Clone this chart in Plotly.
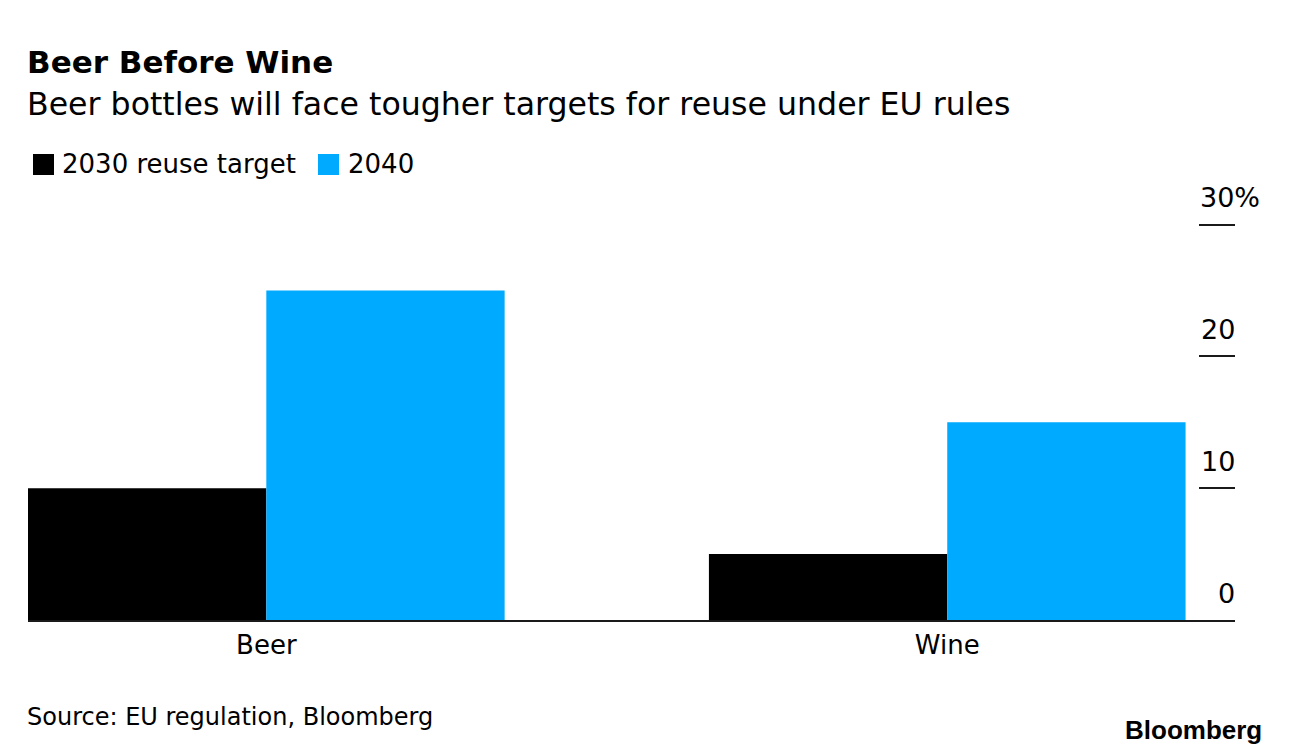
import plotly.graph_objects as go

categories = ["Beer", "Wine"]
series_names = ["2030 reuse target", "2040"]
values_2030 = [10, 5]
values_2040 = [25, 15]
tick_values = [0, 10, 20, 30]
tick_labels = ["0", "10", "20", "30%"]

colors = ["#000000", "#00AAFF"]
FONT = "DejaVu Sans, sans-serif"
LOGO_FONT = "Liberation Sans, Arial, sans-serif"

W, H = 1289, 756
L, R, T, B = 28, 54, 218, 136
PW, PH = W - L - R, H - T - B
Y_MAX = 30.5


def px(x):
    return (x - L) / PW


def py(y):
    return (H - B - y) / PH


fig = go.Figure()
for name, vals, col in zip(series_names, [values_2030, values_2040], colors):
    fig.add_trace(go.Bar(x=categories, y=vals, name=name, marker=dict(color=col, line=dict(width=0)),
                         showlegend=False))

annotations = []
# tick labels
for v, t in zip(tick_values, tick_labels):
    if t.endswith("%"):
        annotations.append(dict(x=1, xref="paper", xanchor="left", xshift=-37, y=v, yref="y",
                                yanchor="middle", yshift=27, text=t, showarrow=False,
                                font=dict(family=FONT, size=27, color="#000")))
    else:
        annotations.append(dict(x=1, xref="paper", xanchor="right", xshift=2, y=v, yref="y",
                                yanchor="middle", yshift=27, text=t, showarrow=False,
                                font=dict(family=FONT, size=27, color="#000")))

# title, subtitle
annotations.append(dict(x=px(25), y=py(62), xref="paper", yref="paper", xanchor="left", yanchor="middle",
                        text="<b>Beer Before Wine</b>", showarrow=False,
                        font=dict(family=FONT, size=31, color="#000")))
annotations.append(dict(x=px(25), y=py(104), xref="paper", yref="paper", xanchor="left", yanchor="middle",
                        text="Beer bottles will face tougher targets for reuse under EU rules", showarrow=False,
                        font=dict(family=FONT, size=31.6, color="#000")))
# legend
shapes = []
leg_sq = [(33, 54), (318, 339)]
leg_tx = [60, 346]
for (x0, x1), tx, name, col in zip(leg_sq, leg_tx, series_names, colors):
    shapes.append(dict(type="rect", xref="paper", yref="paper", x0=px(x0), x1=px(x1), y0=py(175), y1=py(154),
                       fillcolor=col, line=dict(width=0)))
    annotations.append(dict(x=px(tx), y=py(164), xref="paper", yref="paper", xanchor="left", yanchor="middle",
                            text=name, showarrow=False, font=dict(family=FONT, size=26, color="#000")))
# source & logo
annotations.append(dict(x=px(25), y=py(717), xref="paper", yref="paper", xanchor="left", yanchor="middle",
                        text="Source: EU regulation, Bloomberg", showarrow=False,
                        font=dict(family=FONT, size=24, color="#000")))
annotations.append(dict(x=px(1264), y=py(730), xref="paper", yref="paper", xanchor="right", yanchor="middle",
                        text="<b>Bloomberg</b>", showarrow=False,
                        font=dict(family=LOGO_FONT, size=26, color="#000")))

fig.update_layout(
    width=W, height=H,
    margin=dict(l=L, r=R, t=T, b=B, pad=0),
    paper_bgcolor="white", plot_bgcolor="white",
    barmode="group", bargap=0.3, bargroupgap=0,
    showlegend=False,
    annotations=annotations,
    shapes=shapes,
    font=dict(family=FONT, color="#000"),
)
fig.update_xaxes(range=[-0.35, 1.4226], showline=True, linecolor="#1a1a1a", linewidth=2,
                 ticks="", showgrid=False, zeroline=False,
                 tickfont=dict(family=FONT, size=26, color="#000"), ticklabelstandoff=1)
fig.update_yaxes(side="right", range=[0, Y_MAX], tickvals=tick_values, ticks="inside", ticklen=36,
                 tickwidth=2, tickcolor="#1a1a1a", showticklabels=False, showgrid=False,
                 zeroline=False, showline=False)

fig.write_html("out.html")
